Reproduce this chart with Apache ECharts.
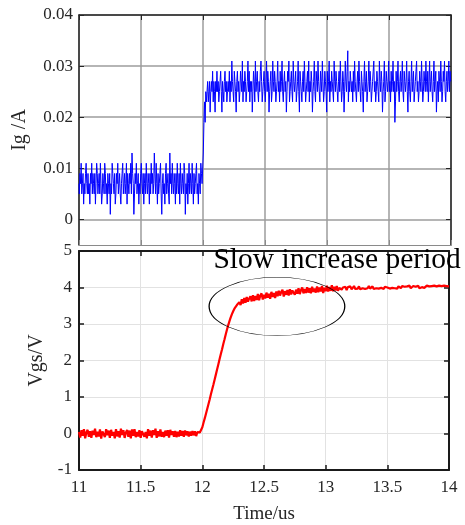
<!DOCTYPE html>
<html><head><meta charset="utf-8">
<script src="https://cdn.jsdelivr.net/npm/echarts@6/dist/echarts.min.js"></script>
<style>html,body{margin:0;padding:0;background:#fff}#c{width:465px;height:525px}</style>
</head><body><div id="c"></div>
<script>
// sampling grids of the scope traces (us)
const timeStart = 11;
const igTimeStep = 0.005;
const vgsTimeStep = 0.01;

// Gate current Ig, in mA (one value per 0.005 us from 11.000 to 14.000)
const igMilliAmps = [
  7,5,9,7,11,5,7,9,3,7,5,9,11,7,5,9,5,7,3,9,
  7,11,5,9,7,5,9,3,7,11,9,5,7,9,5,11,7,3,5,9,
  7,5,11,9,5,7,3,9,7,5,9,1,7,5,11,9,7,5,9,3,
  5,9,7,11,5,7,9,5,3,7,9,11,5,7,9,5,7,11,3,9,
  7,5,9,7,11,5,13,9,7,1,5,9,7,11,5,7,9,3,7,5,
  9,11,7,5,9,3,7,9,5,11,7,5,9,7,3,9,5,11,7,9,
  5,7,13,9,5,11,7,3,9,5,7,9,11,5,1,7,9,5,7,3,
  9,11,5,7,9,5,3,13,7,9,5,11,7,5,9,7,3,9,5,11,
  7,5,9,3,11,7,5,9,7,5,11,9,1,7,5,9,3,7,11,5,
  9,7,5,11,7,3,9,5,7,9,11,5,7,3,9,7,5,11,9,7,
  7,
  13,19,23,19,25,23,
  25,27,23,25,27,21,25,27,25,29,23,27,25,21,27,25,29,25,27,23,
  25,27,29,25,21,27,25,23,27,29,25,27,23,25,
  27,25,29,23,27,25,31,27,25,23,29,27,25,21,27,29,25,27,23,25,
  29,27,25,31,23,27,25,29,27,23,25,27,31,25,29,23,27,25,27,21,
  25,29,27,23,31,25,27,29,25,23,27,25,29,31,27,23,25,27,29,25,
  23,27,31,25,29,27,21,25,27,29,23,25,31,27,25,29,27,23,25,27,
  31,25,27,23,29,25,27,31,25,23,27,29,25,27,21,25,29,27,31,23,
  25,27,29,25,23,31,27,25,27,29,23,25,27,31,25,21,29,27,25,23,
  27,29,25,31,27,23,25,27,29,25,31,23,27,25,29,27,21,25,27,31,
  25,23,29,27,25,31,27,25,23,29,27,25,31,27,23,25,29,27,25,21,
  29,25,27,31,23,27,25,29,27,25,23,31,27,25,29,27,25,23,27,29,
  25,31,27,23,25,29,27,21,25,31,27,25,29,33,23,27,25,29,27,25,
  27,23,29,25,31,27,25,23,27,29,25,31,27,25,23,29,27,25,21,27,
  31,25,27,29,23,25,27,31,25,29,27,23,25,27,29,31,25,27,23,25,
  29,27,25,23,31,27,25,29,27,21,25,27,31,23,25,29,27,25,27,31,
  25,27,23,29,25,27,31,25,27,19,23,29,25,27,31,25,23,27,29,25,
  27,31,25,23,29,27,25,27,31,25,21,27,29,25,23,27,31,25,27,29,
  23,25,27,29,31,25,27,23,25,29,27,25,31,27,23,25,29,27,25,31,
  27,25,29,23,27,31,25,27,29,25,23,27,31,25,27,29,21,25,27,23,
  29,27,25,31,27,23,25,29,27,31,25,23,27,29,25,27,31,25,29,27
];

// Gate-source voltage Vgs, in V (one value per 0.01 us from 11.00 to 14.00)
const vgsVolts = [
  0.04,-0.11,0.09,-0.06,0.12,-0.13,0.03,0.10,-0.09,0.06,
  -0.12,0.08,-0.04,0.13,-0.10,0.05,-0.08,0.11,-0.14,0.06,
  0.09,-0.10,0.12,-0.05,0.08,-0.12,0.10,-0.06,0.04,-0.13,
  0.12,-0.08,0.06,-0.11,0.13,-0.04,0.09,-0.12,0.02,0.10,
  -0.09,0.08,-0.13,0.11,-0.06,0.12,-0.10,0.04,-0.08,0.09,
  -0.12,0.06,0.11,-0.09,0.04,-0.13,0.12,-0.06,0.08,-0.11,
  0.09,-0.04,0.13,-0.12,0.06,-0.08,0.11,-0.09,0.04,-0.10,
  0.08,-0.06,0.09,-0.11,0.10,-0.04,0.06,-0.09,0.07,-0.10,
  0.05,-0.08,0.09,-0.06,0.07,-0.09,0.08,-0.05,0.06,-0.08,
  0.05,-0.06,0.07,-0.05,0.06,-0.07,0.04,0.02,
  0.03,0.08,0.17,0.30,0.42,0.55,0.68,0.81,0.94,1.08,
  1.21,1.34,1.48,1.62,1.76,1.90,2.04,2.18,2.31,2.45,
  2.58,2.72,2.85,2.97,3.08,3.18,3.27,3.35,3.42,3.47,
  3.52,3.55,3.60,
  3.52,3.68,3.56,3.71,3.58,3.74,3.61,3.70,3.76,3.62,
  3.79,3.63,3.77,3.66,3.82,3.65,3.78,3.84,3.67,3.80,
  3.70,3.86,3.72,3.83,3.69,3.88,3.74,3.85,3.71,3.89,
  3.76,3.91,3.78,3.88,3.94,3.75,3.90,3.80,3.93,3.78,
  3.95,3.81,3.92,3.97,3.80,3.94,3.83,3.98,3.82,3.93,
  4.00,3.84,3.96,3.85,4.01,3.86,3.98,3.84,4.02,3.88,
  3.97,3.86,4.03,3.87,4.00,3.89,4.04,3.85,3.99,3.90,
  4.05,3.89,4.01,3.91,4.06,3.90,4.02,3.92,4.04,3.91,
  3.99,4.04,3.94,4.00,3.96,4.02,3.93,4.01,3.97,4.03,
  3.95,4.00,4.04,3.96,4.01,3.97,4.03,3.95,4.00,3.98,
  4.02,3.96,4.01,3.98,4.04,3.97,4.00,4.03,3.96,4.01,
  3.98,4.03,3.97,4.01,3.99,4.04,3.96,4.02,3.98,4.00,
  4.03,3.97,4.01,3.99,4.04,3.98,4.02,3.97,4.03,4.00,
  3.98,4.04,3.99,4.02,3.97,4.03,4.00,4.05,3.98,4.01,
  4.04,3.99,4.02,4.00,4.05,3.98,4.03,4.01,4.04,3.99,
  4.02,4.05,4.00,4.03,3.99,4.04,4.01,4.05,4.00,4.03,
  4.01,4.05,4.02,4.04,4.00,4.05,4.02,4.04,4.01,4.03
];

// axes
const timeMin = 11, timeMax = 14, timeInterval = 0.5;
const igTicks = [0, 0.01, 0.02, 0.03, 0.04];
const igMin = -0.005, igMax = 0.04;
const vgsMin = -1, vgsMax = 5, vgsInterval = 1;

// annotation
const annotationText = 'Slow increase period';
const annotationTextAt = [12.09, 4.74];
const ellipseCenter = [12.605, 3.48];
const ellipseRadius = [0.55, 0.8];

const FONT = "'Liberation Serif','Times New Roman',serif";
const TXT = '#262626';

const igData = igMilliAmps.map((v, i) => [+(timeStart + i * igTimeStep).toFixed(3), v / 1000]);
const vgsData = vgsVolts.map((v, i) => [+(timeStart + i * vgsTimeStep).toFixed(2), v]);

const chart = echarts.init(document.getElementById('c'), null, {renderer: 'canvas'});

function xAx(grid, pos, opts) {
  return Object.assign({
    type: 'value', gridIndex: grid, position: pos,
    min: timeMin, max: timeMax, interval: timeInterval,
    axisLine: {onZero: false, lineStyle: {color: '#262626', width: 1.5}},
    axisTick: {inside: true, length: 5, lineStyle: {color: '#262626'}},
    axisLabel: {show: false},
    splitLine: {show: false}
  }, opts);
}

chart.setOption({
  animation: false,
  backgroundColor: '#fff',
  grid: [
    {left: 79, right: 14, top: 15, bottom: 280, containLabel: false},
    {left: 79, right: 16, top: 251, bottom: 52, containLabel: false}
  ],
  xAxis: [
    xAx(0, 'bottom', {
      axisLine: {onZero: false, lineStyle: {color: '#8a8a8a', width: 1}},
      axisTick: {inside: true, length: 5, lineStyle: {color: '#8a8a8a'}},
      splitLine: {show: true, lineStyle: {color: '#9c9c9c', width: 1.5}}
    }),
    xAx(0, 'top', {}),
    xAx(1, 'bottom', {
      axisLine: {onZero: false, lineStyle: {color: '#1a1a1a', width: 2}},
      axisTick: {inside: true, length: 5, lineStyle: {color: '#1a1a1a', width: 1.5}},
      axisLabel: {show: true, margin: 9, color: TXT, fontFamily: FONT, fontSize: 17},
      splitLine: {show: true, lineStyle: {color: '#e2e2e2', width: 1}},
      name: 'Time/us', nameLocation: 'middle', nameGap: 35,
      nameTextStyle: {color: TXT, fontFamily: FONT, fontSize: 19}
    }),
    xAx(1, 'top', {
      axisLine: {onZero: false, lineStyle: {color: '#1a1a1a', width: 2}},
      axisTick: {inside: true, length: 5, lineStyle: {color: '#1a1a1a', width: 1.5}}
    })
  ],
  yAxis: [
    {
      type: 'value', gridIndex: 0, position: 'left', min: igMin, max: igMax,
      axisLine: {onZero: false, show: true, lineStyle: {color: '#262626', width: 1.5}},
      axisTick: {show: true, inside: true, length: 5, customValues: igTicks, lineStyle: {color: '#262626'}},
      axisLabel: {show: true, customValues: igTicks, margin: 6, color: TXT, fontFamily: FONT, fontSize: 17,
                  formatter: v => String(+v.toFixed(3))},
      splitLine: {show: true, lineStyle: {color: '#9c9c9c', width: 1.5}},
      name: 'Ig /A', nameLocation: 'middle', nameGap: 49,
      nameTextStyle: {color: TXT, fontFamily: FONT, fontSize: 20}
    },
    {
      type: 'value', gridIndex: 0, position: 'right', min: igMin, max: igMax,
      axisLine: {onZero: false, show: true, lineStyle: {color: '#262626', width: 1.5}},
      axisTick: {show: true, inside: true, length: 5, customValues: igTicks, lineStyle: {color: '#262626'}},
      axisLabel: {show: false},
      splitLine: {show: false}
    },
    {
      type: 'value', gridIndex: 1, position: 'left', min: vgsMin, max: vgsMax, interval: vgsInterval,
      axisLine: {onZero: false, show: true, lineStyle: {color: '#1a1a1a', width: 2}},
      axisTick: {show: true, inside: true, length: 5, lineStyle: {color: '#1a1a1a', width: 1.5}},
      axisLabel: {show: true, margin: 7, color: TXT, fontFamily: FONT, fontSize: 17},
      splitLine: {show: true, lineStyle: {color: '#e2e2e2', width: 1}},
      name: 'Vgs/V', nameLocation: 'middle', nameGap: 27,
      nameTextStyle: {color: TXT, fontFamily: FONT, fontSize: 20}
    },
    {
      type: 'value', gridIndex: 1, position: 'right', min: vgsMin, max: vgsMax, interval: vgsInterval,
      axisLine: {onZero: false, show: true, lineStyle: {color: '#1a1a1a', width: 2}},
      axisTick: {show: true, inside: true, length: 5, lineStyle: {color: '#1a1a1a', width: 1.5}},
      axisLabel: {show: false},
      splitLine: {show: false}
    }
  ],
  series: [
    {
      type: 'line', xAxisIndex: 0, yAxisIndex: 0, data: igData, step: 'middle',
      showSymbol: false, symbol: 'none', clip: true, sampling: null,
      lineStyle: {color: '#0000ff', width: 1}, z: 3
    },
    {
      type: 'line', xAxisIndex: 2, yAxisIndex: 2, data: vgsData,
      showSymbol: false, symbol: 'none', clip: true,
      lineStyle: {color: '#ff0000', width: 2.2}, z: 3
    }
  ]
});

// annotation placed via the chart's own coordinate system
const finder = {xAxisIndex: 2, yAxisIndex: 2};
const c = chart.convertToPixel(finder, ellipseCenter);
const ex = chart.convertToPixel(finder, [ellipseCenter[0] + ellipseRadius[0], ellipseCenter[1]]);
const ey = chart.convertToPixel(finder, [ellipseCenter[0], ellipseCenter[1] + ellipseRadius[1]]);
const rx = Math.abs(ex[0] - c[0]);
const ry = Math.abs(c[1] - ey[1]);
const t = chart.convertToPixel(finder, annotationTextAt);

chart.setOption({
  graphic: [
    {
      type: 'circle', x: c[0], y: c[1], scaleX: 1, scaleY: ry / rx,
      shape: {cx: 0, cy: 0, r: rx},
      style: {fill: 'none', stroke: '#000', lineWidth: 1.3, strokeNoScale: true},
      z: 100
    },
    {
      type: 'text', x: t[0], y: t[1],
      style: {text: annotationText, font: "29.5px 'Liberation Serif','Times New Roman',serif",
              fill: '#000', align: 'left', verticalAlign: 'middle'},
      z: 101
    }
  ]
});
</script>
</body></html>
